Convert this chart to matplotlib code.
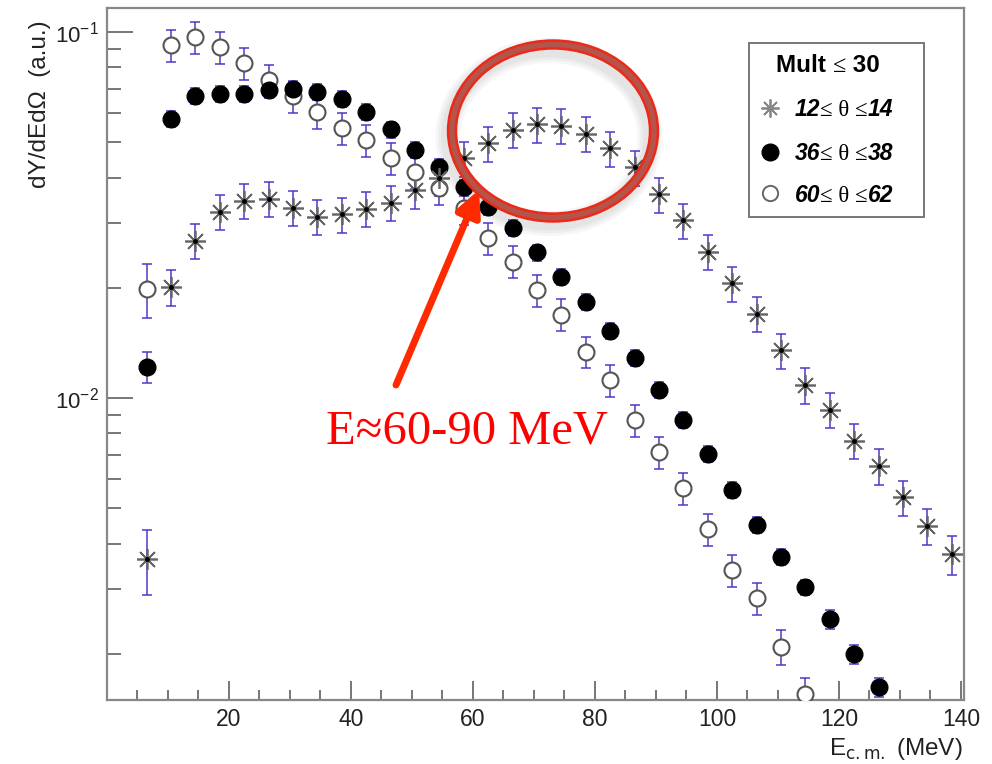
import matplotlib
matplotlib.use("Agg")
import matplotlib.pyplot as plt
import numpy as np
from matplotlib.patches import Ellipse, Rectangle, FancyArrowPatch
from matplotlib.lines import Line2D
from matplotlib.ticker import MultipleLocator, LogLocator, NullFormatter

W, H = 992, 764

# bin centres (MeV)
energy = [6.5, 10.5, 14.5, 18.5, 22.5, 26.5, 30.5, 34.5, 38.5, 42.5,
          46.5, 50.5, 54.5, 58.5, 62.5, 66.5, 70.5, 74.5, 78.5, 82.5,
          86.5, 90.5, 94.5, 98.5, 102.5, 106.5, 110.5, 114.5, 118.5, 122.5,
          126.5, 130.5, 134.5, 138.5]

# 12 <= theta <= 14
y_fwd = [0.00363, 0.0201, 0.0269, 0.0323, 0.0346, 0.0350, 0.0331, 0.0313, 0.0318, 0.0329,
         0.0342, 0.0370, 0.0400, 0.0452, 0.0497, 0.0540, 0.0560, 0.0555, 0.0528, 0.0481,
         0.0427, 0.0360, 0.0306, 0.0251, 0.0206, 0.0170, 0.0135, 0.01085, 0.0093, 0.00764,
         0.00652, 0.00535, 0.00447, 0.00374]
err_fwd = [20, 11, 11, 11, 11, 11, 11, 11, 11, 11,
           11, 11, 11, 11, 11, 11, 11, 11, 11, 11,
           11, 11, 11, 11, 11, 11, 11, 11, 11, 11,
           11, 11, 11, 12]   # percent

# 36 <= theta <= 38
y_mid = [0.01218, 0.0578, 0.0670, 0.0676, 0.0677, 0.0694, 0.0697, 0.0687, 0.0656, 0.0604,
         0.0542, 0.0476, 0.0429, 0.0376, 0.0333, 0.0291, 0.0250, 0.02145, 0.01833, 0.01528,
         0.01289, 0.01051, 0.00871, 0.00703, 0.00561, 0.00450, 0.00368, 0.00304, 0.00249, 0.00200,
         0.00162]
err_mid = [10, 5, 5, 5, 5, 5, 5, 5, 5, 5,
           5, 5, 5, 5, 5, 5, 5, 5, 5, 5,
           5, 5, 5, 5, 5, 5, 5, 5, 6, 6,
           6]

# 60 <= theta <= 62
y_bwd = [0.0199, 0.0921, 0.0969, 0.0910, 0.0823, 0.0740, 0.0668, 0.0604, 0.0547, 0.0507,
         0.0453, 0.0414, 0.0375, 0.0330, 0.0274, 0.0236, 0.0197, 0.0169, 0.01338, 0.0112,
         0.0087, 0.00713, 0.00568, 0.00438, 0.00339, 0.00284, 0.00209, 0.00155]
err_bwd = [17, 10, 10, 10, 10, 10, 10, 10, 10, 10,
           10, 10, 10, 10, 10, 10, 10, 10, 10, 10,
           10, 10, 10, 10, 10, 10, 11, 11]

xticks = [20, 40, 60, 80, 100, 120, 140]

ebar_col = "#4a3acc"

fig = plt.figure(figsize=(W / 100, H / 100), dpi=100)
ax = fig.add_axes([107 / W, 1 - 700 / H, (964 - 107) / W, (700 - 8) / H])
ax.set_yscale("log")
ax.set_xlim(0, 140.5)
ax.set_ylim(1.496e-3, 0.1163)


def draw(y, err, **mk):
    x = energy[:len(y)]
    y = np.array(y)
    e = y * np.array(err) / 100.0
    ax.errorbar(x, y, yerr=e, fmt="none", ecolor=ebar_col, elinewidth=1.1,
                capsize=3.8, capthick=1.1, zorder=2)
    ax.plot(x, y, ls="none", zorder=3, **mk)


draw(y_bwd, err_bwd, marker="o", ms=11.5, mfc="white", mec="#555555", mew=1.5)
draw(y_mid, err_mid, marker="o", ms=12, mfc="black", mec="black", mew=1)
draw(y_fwd, err_fwd, marker=(8, 2, 0), ms=15, mec="#666666", mew=1.25)
ax.plot(energy, y_fwd, ls="none", marker="o", ms=2.5, color="black", zorder=4)

# ROOT-like frame and ticks
for s in ax.spines.values():
    s.set_color("#888888")
    s.set_linewidth(1.6)
ax.xaxis.set_major_locator(MultipleLocator(20))
ax.xaxis.set_minor_locator(MultipleLocator(5))
ax.set_xticks(xticks)
ax.yaxis.set_major_locator(LogLocator(base=10))
ax.yaxis.set_minor_locator(LogLocator(base=10, subs=np.arange(2, 10)))
ax.yaxis.set_minor_formatter(NullFormatter())
ax.tick_params(which="both", direction="in", color="#777777", width=1.4,
               top=False, right=False, labelcolor="#222222")
ax.tick_params(axis="x", which="major", length=14, pad=6, labelsize=16.5)
ax.tick_params(axis="x", which="minor", length=7)
ax.tick_params(axis="y", which="major", length=19, pad=6, labelsize=16)
ax.tick_params(axis="y", which="minor", length=10)
for lab in ax.get_xticklabels() + ax.get_yticklabels():
    lab.set_family("Liberation Sans")

fig.text(40 / W, 1 - 20 / H, "dY/dEd\u03a9  (a.u.)", rotation=90, ha="center",
         va="top", fontsize=17.5, family="Liberation Sans", color="#222222")
fig.text(963 / W, 1 - 755 / H, r"E$_{\rm c.m.}$ (MeV)", ha="right", va="baseline",
         fontsize=17.5, family="Liberation Sans", color="#222222")

# legend box
fig.add_artist(Rectangle((749 / W, 1 - 217 / H), (924 - 749) / W, (217 - 43) / H,
                         transform=fig.transFigure, facecolor="white",
                         edgecolor="#777777", lw=1.4, zorder=5))
renderer = fig.canvas.get_renderer()


def chain_text(x_px, y_px, pieces):
    for s, kw in pieces:
        t = fig.text(x_px / W, 1 - y_px / H, s, ha="left", va="baseline",
                     zorder=6, **kw)
        x_px += t.get_window_extent(renderer).width


bi = dict(fontsize=16.5, family="Liberation Sans", weight="bold", style="italic")
sym = dict(fontsize=16.5, family="Liberation Serif")
bold = dict(fontsize=17.5, family="Liberation Sans", weight="bold")
chain_text(776, 71.5, [("Mult ", bold),
                       ("\u2264", dict(fontsize=17.5, family="Liberation Serif")),
                       (" 30", bold)])
rows = [("12", "14", 116.5), ("36", "38", 160), ("60", "62", 201.5)]
for lo, hi, yb in rows:
    chain_text(795, yb, [(lo, bi), ("\u2264 \u03b8 \u2264", sym), (hi, bi)])

leg_y = [108, 152, 193]
fig.add_artist(Line2D([770 / W], [1 - leg_y[0] / H], transform=fig.transFigure,
                      marker=(8, 2, 0), ms=13, mec="#888888", mew=1.3, zorder=6))
fig.add_artist(Line2D([770 / W], [1 - leg_y[1] / H], transform=fig.transFigure,
                      marker="o", ms=12, mfc="black", mec="black", zorder=6))
fig.add_artist(Line2D([770 / W], [1 - leg_y[2] / H], transform=fig.transFigure,
                      marker="o", ms=11, mfc="white", mec="#666666", mew=1.4, zorder=6))

# highlighted peak region
cx, cy, ew, eh = 553, 131, 202, 173
for k, lw in enumerate([18, 14, 10]):
    fig.add_artist(Ellipse(((cx - 4) / W, 1 - (cy + 6) / H), ew / W, eh / H,
                           transform=fig.transFigure, fill=False,
                           edgecolor="black", alpha=0.035, lw=lw, zorder=7))
fig.add_artist(Ellipse((cx / W, 1 - cy / H), ew / W, eh / H, transform=fig.transFigure,
                       fill=False, edgecolor="#ec2a1a", lw=7.5, zorder=8))
fig.add_artist(Ellipse((cx / W, 1 - cy / H), ew / W, eh / H, transform=fig.transFigure,
                       fill=False, edgecolor="#b4554c", lw=3.8, zorder=9))

fig.add_artist(FancyArrowPatch((396 / W, 1 - 385 / H), (479 / W, 1 - 190 / H),
                               transform=fig.transFigure, color="#ff2a00", lw=5,
                               arrowstyle="-|>,head_length=15,head_width=7.5",
                               mutation_scale=1, shrinkA=0, shrinkB=0, zorder=10))
fig.text(326 / W, 1 - 444 / H, "E\u224860-90 MeV", ha="left", va="baseline",
         fontsize=35, family="Liberation Serif", color="#ff0000", zorder=10)

fig.savefig("out.png", dpi=100)
